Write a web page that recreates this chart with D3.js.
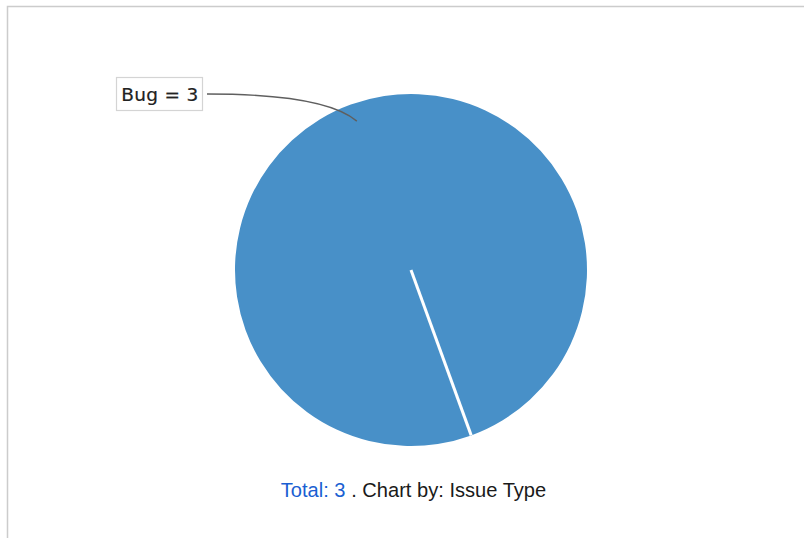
<!DOCTYPE html>
<html>
<head>
<meta charset="utf-8">
<script src="https://cdn.jsdelivr.net/npm/d3@7"></script>
<style>
  html, body { margin: 0; padding: 0; background: #fff; }
  svg { display: block; }
</style>
</head>
<body>
<script>
// chart values
const categories = ['Bug'];
const values = [3];
const colors = ['#4890c8'];
const total = d3.sum(values);

const width = 804, height = 538;
const cx = 411, cy = 270, radius = 176;
const startDeg = 160;

const svg = d3.select('body')
  .append('svg')
  .attr('width', width)
  .attr('height', height);

// frame of the panel (runs off the right and bottom)
svg.append('rect')
  .attr('x', 7.5)
  .attr('y', 6.5)
  .attr('width', width + 20)
  .attr('height', height + 20)
  .attr('fill', 'none')
  .attr('stroke', '#cccccc')
  .attr('stroke-width', 1.5);

const pie = d3.pie()
  .sort(null)
  .startAngle(startDeg * Math.PI / 180)
  .endAngle(startDeg * Math.PI / 180 + 2 * Math.PI);

const slices = pie(values);

const arc = d3.arc()
  .innerRadius(0)
  .outerRadius(radius);

const g = svg.append('g')
  .attr('transform', 'translate(' + cx + ',' + cy + ')');

g.selectAll('path.slice')
  .data(slices)
  .enter()
  .append('path')
  .attr('class', 'slice')
  .attr('d', arc)
  .attr('fill', (d, i) => colors[i]);

// white edge where each slice starts
g.selectAll('line.edge')
  .data(slices)
  .enter()
  .append('line')
  .attr('class', 'edge')
  .attr('x1', 0)
  .attr('y1', 0)
  .attr('x2', d => d3.pointRadial(d.startAngle, radius)[0])
  .attr('y2', d => d3.pointRadial(d.startAngle, radius)[1])
  .attr('stroke', '#ffffff')
  .attr('stroke-width', 3);

// label box + leader curve
const boxX = 116, boxY = 77, boxW = 86, boxH = 33;

slices.forEach(function(d, i) {
  const mid = (d.startAngle + d.endAngle) / 2;
  const end = d3.pointRadial(mid, radius * 0.9);
  const ex = cx + end[0], ey = cy + end[1];
  const sx = boxX + boxW + 5, sy = boxY + boxH / 2 + 0.5;
  const path = d3.path();
  path.moveTo(sx, sy);
  path.quadraticCurveTo(325, sy, ex, ey);
  svg.append('path')
    .attr('d', path.toString())
    .attr('fill', 'none')
    .attr('stroke', '#5f5f5f')
    .attr('stroke-width', 1.4);

  svg.append('rect')
    .attr('x', boxX + 0.5)
    .attr('y', boxY + 0.5)
    .attr('width', boxW)
    .attr('height', boxH)
    .attr('fill', '#ffffff')
    .attr('stroke', '#d4d4d4')
    .attr('stroke-width', 1.2);

  svg.append('text')
    .attr('x', boxX + boxW / 2 + 1)
    .attr('y', boxY + 24)
    .attr('text-anchor', 'middle')
    .style('font-family', '"DejaVu Sans", sans-serif')
    .style('font-size', '18.5px')
    .style('letter-spacing', '0.3px')
    .style('fill', '#222222')
    .style('stroke', '#222222')
    .style('stroke-width', 0.2)
    .text(categories[i] + ' = ' + values[i]);
});

// footer
const foot = svg.append('text')
  .attr('x', 413.5)
  .attr('y', 497)
  .attr('text-anchor', 'middle')
  .style('font-family', '"Liberation Sans", Arial, sans-serif')
  .style('font-size', '20.1px');

foot.append('tspan')
  .style('fill', '#1a5fd2')
  .text('Total: ' + total);
foot.append('tspan')
  .style('fill', '#1a1a1a')
  .text(' . Chart by: Issue Type');
</script>
</body>
</html>
